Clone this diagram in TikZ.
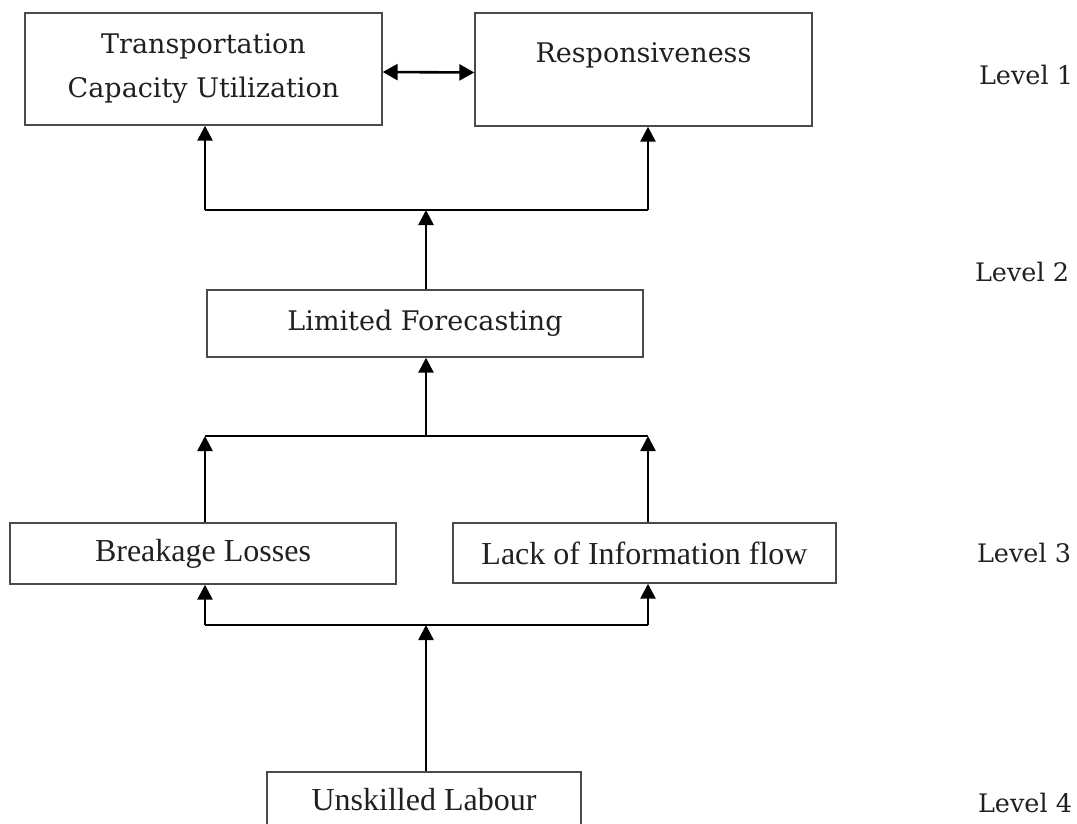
\documentclass[tikz,border=0pt]{standalone}
\usepackage{fontspec}
\setmainfont{Liberation Serif}
\newfontfamily\camfont{DejaVu Serif}
\usetikzlibrary{arrows.meta}
\definecolor{ink}{HTML}{231F20}
\definecolor{frame}{HTML}{4A4A4A}
\tikzset{
  box/.style={draw=frame, line width=1.4pt, fill=white, inner sep=0pt, text=ink, align=center},
  camtext/.style={font=\camfont\fontsize{27}{44}\selectfont, text=ink, align=center},
  timestext/.style={font=\fontsize{32}{38}\selectfont, text=ink},
  leveltext/.style={font=\camfont\fontsize{25.5}{30}\selectfont, text=ink},
  link/.style={draw=black, line width=2.6pt},
  uparrow/.style={link, -{Triangle[length=15pt,width=15pt]}},
  botharrow/.style={link, {Triangle[length=15pt,width=16pt]}-{Triangle[length=15pt,width=16pt]}}
}
\begin{document}
\begin{tikzpicture}[x=1pt,y=-1pt]
\useasboundingbox (0,0) rectangle (1077,824);
\clip (0,0) rectangle (1077,824);

% level 1
\node[box, minimum width=357pt, minimum height=112pt, camtext] (tcu) at (203.5,69)
  {Transportation\\Capacity Utilization};
\node[box, minimum width=337pt, minimum height=113pt] (resp) at (643.5,69.5) {};
\node[camtext] (resptext) at (643.5,55) {Responsiveness};

% level 2
\node[box, minimum width=436pt, minimum height=67pt, camtext] (lf) at (425,323.5) {Limited Forecasting};

% level 3
\node[box, minimum width=386pt, minimum height=61pt, timestext] (bl) at (203,553.5) {Breakage Losses};
\node[box, minimum width=383pt, minimum height=60pt, timestext] (lif) at (644.5,553) {Lack of Information flow};

% level 4 (runs off the lower edge)
\node[box, minimum width=314pt, minimum height=68pt] (ul) at (424,806) {};
\node[timestext] (ultext) at (424,800) {Unskilled Labour};

% level captions
\node[leveltext] (lv1) at (1026,75) {Level 1};
\node[leveltext] (lv2) at (1022,272) {Level 2};
\node[leveltext] (lv3) at (1024,553) {Level 3};
\node[leveltext] (lv4) at (1025,803) {Level 4};

% bus junctions
\coordinate (b1l) at (205,210);
\coordinate (b1m) at (426,210);
\coordinate (b1r) at (648,210);
\coordinate (b2l) at (205,436);
\coordinate (b2m) at (426,436);
\coordinate (b2r) at (648,436);
\coordinate (b3l) at (205,625);
\coordinate (b3m) at (426,625);
\coordinate (b3r) at (648,625);

% connectors
\draw[botharrow] ([yshift=-3pt]tcu.east) -- ([yshift=-3pt]resp.west);

\draw[link] (b1l) -- (b1r);
\draw[uparrow] (b1l) -- (b1l |- tcu.south);
\draw[uparrow] (b1r) -- (b1r |- resp.south);
\draw[uparrow] (b1m |- lf.north) -- (b1m);

\draw[link] (b2l) -- (b2r);
\draw[uparrow] (b2m) -- (b2m |- lf.south);
\draw[uparrow] (b2l |- bl.north) -- (b2l);
\draw[uparrow] (b2r |- lif.north) -- (b2r);

\draw[link] (b3l) -- (b3r);
\draw[uparrow] (b3l) -- (b3l |- bl.south);
\draw[uparrow] (b3r) -- (b3r |- lif.south);
\draw[uparrow] (b3m |- ul.north) -- (b3m);
\end{tikzpicture}
\end{document}
